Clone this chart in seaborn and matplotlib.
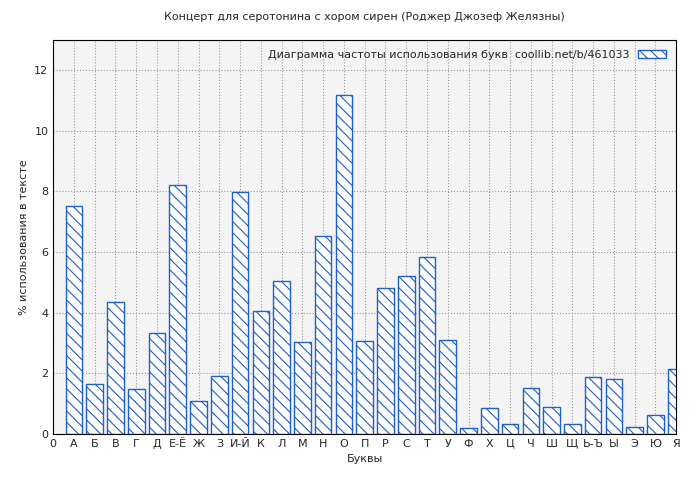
import matplotlib
matplotlib.use("Agg")
import matplotlib.pyplot as plt
import seaborn as sns
import pandas as pd

letters = ["0", "А", "Б", "В", "Г", "Д", "Е-Ё", "Ж", "З", "И-Й", "К", "Л", "М", "Н", "О",
           "П", "Р", "С", "Т", "У", "Ф", "Х", "Ц", "Ч", "Ш", "Щ", "Ь-Ъ", "Ы", "Э", "Ю", "Я"]
percent = [7.52, 1.65, 4.35, 1.48, 3.33, 8.21, 1.09, 1.91, 7.98, 4.06, 5.04, 3.03, 6.53,
           11.18, 3.07, 4.81, 5.21, 5.84, 3.10, 0.20, 0.86, 0.33, 1.52, 0.89, 0.33, 1.88,
           1.81, 0.23, 0.63, 2.14]

df = pd.DataFrame({"pos": range(1, len(percent) + 1), "pct": percent})

sns.set_style("white")
plt.rcParams["font.family"] = ["DejaVu Sans"]
plt.rcParams["hatch.color"] = "#1f5fc8"
plt.rcParams["hatch.linewidth"] = 0.8

fig = plt.figure(figsize=(7, 4.8), dpi=100)
ax = fig.add_axes([0.076, 0.096, 0.89, 0.821])
ax.set_facecolor("#f4f4f4")

sns.barplot(data=df, x="pos", y="pct", native_scale=True, width=0.8,
            color="white", edgecolor="#1f5fc8", linewidth=1.0, hatch="\\\\\\",
            label="Диаграмма частоты использования букв  coollib.net/b/461033", ax=ax)

ax.set_xlim(0, 30)
ax.set_ylim(0, 13)
ax.set_xticks(range(len(letters)))
ax.set_xticklabels(letters, fontsize=8)
ax.set_yticks(range(0, 13, 2))
ax.tick_params(axis="y", labelsize=8, direction="in")
ax.tick_params(axis="x", direction="in")
ax.grid(True, linestyle=":", color="#999999", linewidth=0.8)
ax.set_axisbelow(True)
for s in ax.spines.values():
    s.set_color("black")
    s.set_linewidth(0.8)

ax.set_xlabel("Буквы", fontsize=8)
ax.set_ylabel("% использования в тексте", fontsize=8)
ax.set_title("Концерт для серотонина с хором сирен (Роджер Джозеф Желязны)", fontsize=8, pad=14)
leg = ax.legend(loc="upper right", fontsize=8, frameon=False, markerfirst=False,
                handlelength=2.5, handleheight=0.8)

fig.savefig("out.png", dpi=100)
